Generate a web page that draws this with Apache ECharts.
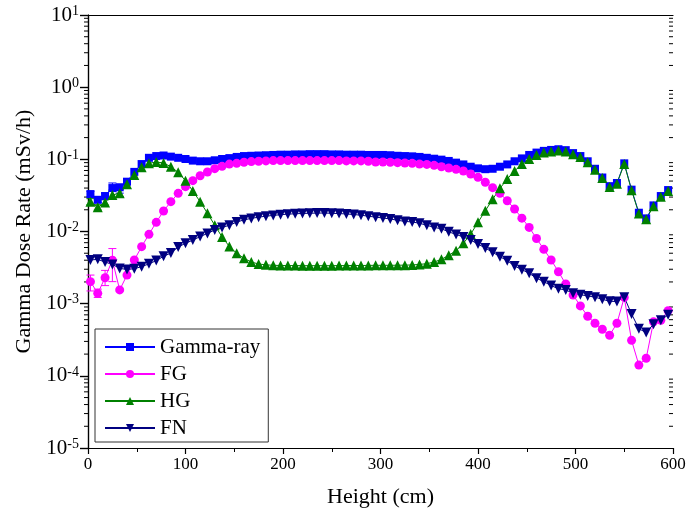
<!DOCTYPE html>
<html>
<head>
<meta charset="utf-8">
<script src="https://cdn.jsdelivr.net/npm/echarts@6/dist/echarts.min.js"></script>
<style>
  html, body { margin: 0; padding: 0; background: #ffffff; }
  #chart { width: 689px; height: 522px; }
</style>
</head>
<body>
<div id="chart"></div>
<script>
// Measurement heights (cm)
const heights = [
  2.5, 10, 17.5, 25, 32.5, 40, 47.5, 55, 62.5, 70,
  77.5, 85, 92.5, 100, 107.5, 115, 122.5, 130, 137.5, 145,
  152.5, 160, 167.5, 175, 182.5, 190, 197.5, 205, 212.5, 220,
  227.5, 235, 242.5, 250, 257.5, 265, 272.5, 280, 287.5, 295,
  302.5, 310, 317.5, 325, 332.5, 340, 347.5, 355, 362.5, 370,
  377.5, 385, 392.5, 400, 407.5, 415, 422.5, 430, 437.5, 445,
  452.5, 460, 467.5, 475, 482.5, 490, 497.5, 505, 512.5, 520,
  527.5, 535, 542.5, 550, 557.5, 565, 572.5, 580, 587.5, 595
];

// Dose rates (mSv/h)
const gammaRay = [
  0.033, 0.0275, 0.031, 0.040, 0.041, 0.049, 0.067, 0.086, 0.105, 0.111,
  0.113, 0.109, 0.105, 0.101, 0.096, 0.094, 0.094, 0.097, 0.101, 0.104,
  0.108, 0.111, 0.112, 0.113, 0.114, 0.115, 0.116, 0.116, 0.117, 0.117,
  0.118, 0.118, 0.118, 0.117, 0.117, 0.116, 0.116, 0.116, 0.115, 0.115,
  0.115, 0.114, 0.112, 0.111, 0.110, 0.108, 0.105, 0.102, 0.099, 0.095,
  0.090, 0.085, 0.079, 0.075, 0.073, 0.074, 0.079, 0.085, 0.094, 0.103,
  0.115, 0.124, 0.131, 0.135, 0.138, 0.134, 0.122, 0.111, 0.094, 0.074,
  0.056, 0.0425, 0.047, 0.088, 0.038, 0.0182, 0.0152, 0.023, 0.031, 0.0375
];
const fg = [
  0.00202, 0.00139, 0.00229, 0.00400, 0.00155, 0.00249, 0.00403, 0.00617, 0.00914, 0.0134,
  0.0192, 0.0259, 0.0338, 0.0418, 0.0506, 0.0593, 0.0668, 0.0742, 0.080, 0.086,
  0.088, 0.091, 0.093, 0.094, 0.095, 0.096, 0.096, 0.096, 0.096, 0.096,
  0.096, 0.096, 0.096, 0.096, 0.096, 0.095, 0.095, 0.095, 0.094, 0.092,
  0.092, 0.091, 0.090, 0.089, 0.088, 0.086, 0.085, 0.0826, 0.079, 0.0758,
  0.0727, 0.0689, 0.0626, 0.0563, 0.0481, 0.0405, 0.0338, 0.0267, 0.0205, 0.0153,
  0.0114, 0.0080, 0.00566, 0.00403, 0.00277, 0.00187, 0.00132, 0.00093, 0.00067, 0.000535,
  0.000442, 0.000365, 0.000535, 0.00122, 0.00031, 0.000141, 0.000175, 0.00056, 0.00059, 0.0008
];
const hg = [
  0.0259, 0.0216, 0.0253, 0.032, 0.034, 0.0451, 0.0607, 0.0775, 0.088, 0.0918,
  0.089, 0.079, 0.066, 0.0506, 0.0364, 0.0259, 0.0179, 0.0122, 0.0084, 0.0062,
  0.0050, 0.00425, 0.00377, 0.00355, 0.00345, 0.0034, 0.00338, 0.00337, 0.00337, 0.00336,
  0.00336, 0.00336, 0.00336, 0.00336, 0.00337, 0.00337, 0.00338, 0.00338, 0.00339, 0.0034,
  0.0034, 0.0034, 0.00341, 0.00342, 0.00344, 0.0035, 0.00358, 0.00378, 0.00411, 0.00468,
  0.00542, 0.00686, 0.0092, 0.0134, 0.0194, 0.0279, 0.0396, 0.0534, 0.0689, 0.086,
  0.101, 0.115, 0.124, 0.128, 0.133, 0.128, 0.118, 0.108, 0.091, 0.072,
  0.055, 0.0415, 0.046, 0.0865, 0.0372, 0.0178, 0.0148, 0.0224, 0.0302, 0.0365
];
const fn = [
  0.00403, 0.00411, 0.00377, 0.0035, 0.00308, 0.00298, 0.00305, 0.00326, 0.00356, 0.00395,
  0.00453, 0.00503, 0.0061, 0.00686, 0.0076, 0.0085, 0.0094, 0.0105, 0.0114, 0.0122,
  0.0135, 0.0145, 0.0152, 0.0158, 0.0163, 0.0167, 0.0171, 0.0174, 0.0176, 0.0178,
  0.0179, 0.0180, 0.0180, 0.0179, 0.0177, 0.0175, 0.0172, 0.0168, 0.0163, 0.0158,
  0.0154, 0.0149, 0.0143, 0.0138, 0.01355, 0.0130, 0.0122, 0.0114, 0.0109, 0.0099,
  0.0091, 0.0084, 0.0076, 0.0067, 0.0059, 0.00515, 0.00448, 0.00394, 0.00333, 0.00296,
  0.00264, 0.00225, 0.00202, 0.00178, 0.00161, 0.00155, 0.00139, 0.00133, 0.00128, 0.00123,
  0.00115, 0.00108, 0.00107, 0.00123, 0.00072, 0.00045, 0.000397, 0.00052, 0.00059, 0.0007
];

// Error ranges for the lowest measurement points
const errHeights   = [2.5, 10, 17.5, 25, 32.5];
const gammaErrLow  = [0.030, 0.025, 0.028, 0.0375, 0.034];
const gammaErrHigh = [0.036, 0.030, 0.034, 0.047, 0.045];
const fgErrLow     = [0.0015, 0.00122, 0.00178, 0.00202, null];
const fgErrHigh    = [0.00249, 0.00159, 0.00289, 0.0058, null];
const hgErrLow     = [0.0235, 0.0198, 0.0232, 0.0285, 0.0305];
const hgErrHigh    = [0.0285, 0.0235, 0.0275, 0.036, 0.038];

const seriesNames = ['Gamma-ray', 'FG', 'HG', 'FN'];
const xTicks = { min: 0, max: 600, step: 100 };
const yDecades = { min: 1e-5, max: 10 };

// Logarithmic minor tick values (2..9 within each decade)
const logMinorTicks = [];
for (let e = -5; e < 1; e++) {
  for (let m = 2; m <= 9; m++) logMinorTicks.push(m * Math.pow(10, e));
}

const serif = 'Liberation Serif, Times New Roman, serif';
const colors = { gamma: '#0000ff', fg: '#ff00ff', hg: '#008000', fn: '#000080' };

const pairs = arr => heights.map((h, i) => [h, arr[i]]);

function errData(low, high) {
  const out = [];
  errHeights.forEach((h, i) => { if (low[i] != null) out.push([h, low[i], high[i]]); });
  return out;
}

function errorBarSeries(low, high, color) {
  return {
    type: 'custom',
    coordinateSystem: 'cartesian2d',
    data: errData(low, high),
    encode: { x: 0, y: [1, 2] },
    silent: true,
    z: 1,
    renderItem: function (params, api) {
      const lo = api.coord([api.value(0), api.value(1)]);
      const hi = api.coord([api.value(0), api.value(2)]);
      const hw = 4;
      const st = { stroke: color, lineWidth: 1 };
      return {
        type: 'group',
        children: [
          { type: 'line', shape: { x1: lo[0], y1: lo[1], x2: hi[0], y2: hi[1] }, style: st },
          { type: 'line', shape: { x1: lo[0] - hw, y1: lo[1], x2: lo[0] + hw, y2: lo[1] }, style: st },
          { type: 'line', shape: { x1: hi[0] - hw, y1: hi[1], x2: hi[0] + hw, y2: hi[1] }, style: st }
        ]
      };
    }
  };
}

function lineSeries(name, arr, color, symbol, size, rotate) {
  return {
    name: name,
    type: 'line',
    data: pairs(arr),
    symbol: symbol,
    symbolSize: size,
    symbolRotate: rotate || 0,
    showAllSymbol: true,
    lineStyle: { color: color, width: 1 },
    itemStyle: { color: color },
    z: 2
  };
}

function supLabel(v) {
  const e = Math.round(Math.log10(v));
  return '{b|10}{s|' + e + '}';
}

const chart = echarts.init(document.getElementById('chart'), null, { renderer: 'canvas' });

chart.setOption({
  animation: false,
  backgroundColor: '#ffffff',
  grid: { left: 88, top: 15, width: 585, height: 433, outerBoundsMode: 'none' },
  legend: {
    data: seriesNames,
    orient: 'vertical',
    left: 95,
    top: 329,
    itemWidth: 50,
    itemHeight: 10,
    itemGap: 5,
    padding: [7, 8, 3, 9],
    borderColor: '#333333',
    borderWidth: 1,
    textStyle: { fontFamily: serif, fontSize: 21, color: '#000', lineHeight: 22 }
  },
  xAxis: [
    {
      type: 'value',
      min: xTicks.min, max: xTicks.max, interval: xTicks.step,
      position: 'bottom',
      axisLine: { show: true, lineStyle: { color: '#000', width: 1.2 } },
      axisTick: { show: true, inside: false, length: 6, lineStyle: { color: '#000', width: 1.2 } },
      minorTick: { show: true, splitNumber: 2, length: 4, lineStyle: { color: '#000', width: 1 } },
      splitLine: { show: false },
      axisLabel: { fontFamily: serif, fontSize: 17, color: '#000', margin: 8 },
      name: 'Height (cm)',
      nameLocation: 'middle',
      nameGap: 38,
      nameTextStyle: { fontFamily: serif, fontSize: 22, color: '#000' }
    },
    {
      type: 'value',
      min: xTicks.min, max: xTicks.max, interval: xTicks.step,
      position: 'top',
      axisLine: { show: true, lineStyle: { color: '#000', width: 1.2 } },
      axisTick: { show: false },
      axisLabel: { show: false },
      splitLine: { show: false }
    }
  ],
  yAxis: [
    {
      type: 'log',
      logBase: 10,
      min: yDecades.min, max: yDecades.max,
      position: 'left',
      axisLine: { show: true, lineStyle: { color: '#000', width: 1.2 } },
      axisTick: { show: true, inside: false, length: 8, lineStyle: { color: '#000', width: 1.2 } },
      splitLine: { show: false },
      axisLabel: {
        fontFamily: serif, color: '#000', margin: 9,
        formatter: supLabel,
        rich: {
          b: { fontFamily: serif, fontSize: 21, color: '#000', lineHeight: 22 },
          s: { fontFamily: serif, fontSize: 14, color: '#000', verticalAlign: 'top', lineHeight: 14 }
        }
      },
      name: 'Gamma Dose Rate (mSv/h)',
      nameLocation: 'middle',
      nameGap: 52,
      nameTextStyle: { fontFamily: serif, fontSize: 22, color: '#000' }
    },
    {
      type: 'log',
      logBase: 10,
      min: yDecades.min, max: yDecades.max,
      position: 'right',
      axisLine: { show: true, lineStyle: { color: '#000', width: 1.2 } },
      axisTick: { show: true, inside: true, length: 8, lineStyle: { color: '#000', width: 1.2 } },
      axisLabel: { show: false },
      splitLine: { show: false }
    }
  ],
  series: [
    {
      type: 'custom',
      coordinateSystem: 'cartesian2d',
      data: logMinorTicks.map(v => [xTicks.min, v]),
      encode: { x: 0, y: 1 },
      silent: true,
      clip: false,
      z: 0,
      renderItem: function (params, api) {
        const pl = api.coord([xTicks.min, api.value(1)]);
        const pr = api.coord([xTicks.max, api.value(1)]);
        const st = { stroke: '#000', lineWidth: 1 };
        return {
          type: 'group',
          children: [
            { type: 'line', shape: { x1: pl[0] - 4, y1: pl[1], x2: pl[0], y2: pl[1] }, style: st },
            { type: 'line', shape: { x1: pr[0] - 4, y1: pr[1], x2: pr[0], y2: pr[1] }, style: st }
          ]
        };
      }
    },
    errorBarSeries(gammaErrLow, gammaErrHigh, colors.gamma),
    errorBarSeries(fgErrLow, fgErrHigh, colors.fg),
    errorBarSeries(hgErrLow, hgErrHigh, colors.hg),
    lineSeries('Gamma-ray', gammaRay, colors.gamma, 'rect', 8),
    lineSeries('FG', fg, colors.fg, 'circle', 9),
    lineSeries('HG', hg, colors.hg, 'triangle', 10),
    lineSeries('FN', fn, colors.fn, 'triangle', 10, 180)
  ]
});
</script>
</body>
</html>
